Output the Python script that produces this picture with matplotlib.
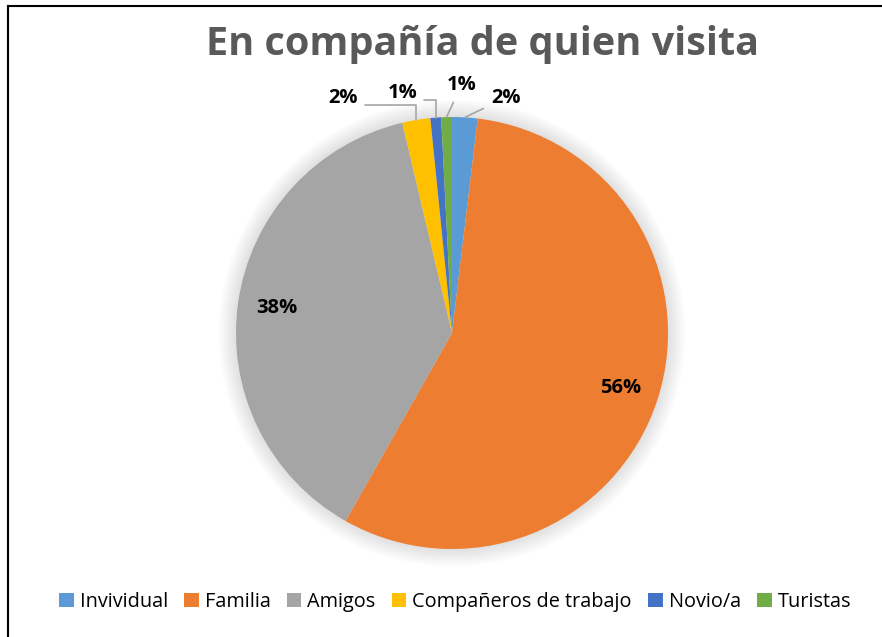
import numpy as np
import matplotlib
matplotlib.use("Agg")
import matplotlib.pyplot as plt
from matplotlib.patches import Circle
from matplotlib.lines import Line2D

# data (percent)
categories = ["Invividual", "Familia", "Amigos", "Compañeros de trabajo", "Novio/a", "Turistas"]
values = [1.9, 56.3, 38.1, 2.1, 0.8, 0.8]
colors = ["#5B9BD5", "#ED7D31", "#A5A5A5", "#FFC000", "#4472C4", "#70AD47"]
title = "En compañía de quien visita"

# outside label positions for the thin slices (axes data units, radius = 1)
outside_pos = {0: (0.25, 1.09), 3: (-0.505, 1.09), 4: (-0.23, 1.11), 5: (0.045, 1.15)}
# leader line shape: elbow (horizontal then down) for the left-hand labels
elbow = {3, 4}

W, H = 882, 637
fig = plt.figure(figsize=(W / 100, H / 100), dpi=100)
fig.patch.set_facecolor("white")

cx, cy, r = 452, 333, 216
ax = fig.add_axes([(cx - r) / W, (H - cy - r) / H, 2 * r / W, 2 * r / H])
ax.axis("off")

# soft glow behind the pie
for i in range(10):
    ax.add_patch(Circle((0, 0), 1.0 + 0.008 * (i + 1), color="black",
                        alpha=0.012, lw=0, zorder=0, clip_on=False))

wedges, _ = ax.pie(values, colors=colors, startangle=90, counterclock=False,
                   radius=1.0, wedgeprops=dict(linewidth=0), frame=False)
ax.set_xlim(-1, 1)
ax.set_ylim(-1, 1)
ax.set_aspect("auto")

total = sum(values)
font = "Open Sans"
for i, (w, v) in enumerate(zip(wedges, values)):
    pct = f"{round(v / total * 100):.0f}%"
    ang = np.deg2rad((w.theta1 + w.theta2) / 2)
    if i in outside_pos:
        tx, ty = outside_pos[i]
        ex, ey = np.cos(ang), np.sin(ang)
        if i in elbow:
            arrow = dict(arrowstyle="-", color="#A6A6A6", lw=1.2, shrinkA=3, shrinkB=0,
                         relpos=(1.0, 0.15),
                         connectionstyle="angle,angleA=0,angleB=90,rad=0")
        else:
            arrow = dict(arrowstyle="-", color="#A6A6A6", lw=1.2, shrinkA=4, shrinkB=0)
        ax.annotate(pct, xy=(ex, ey), xytext=(tx, ty), ha="center", va="center",
                    fontsize=14.5, fontweight="bold", family=font, color="black",
                    annotation_clip=False, arrowprops=arrow)
    else:
        d = 0.82
        ax.text(d * np.cos(ang), d * np.sin(ang), pct, ha="center", va="center",
                fontsize=14.5, fontweight="bold", family=font, color="black")

fig.text(482 / W, 1 - 45 / H, title, ha="center", va="center", fontsize=28.5,
         fontweight="bold", family=font, color="#595959")

fig.legend(wedges, categories, loc="center", bbox_to_anchor=(455 / W, 1 - 602 / H),
           ncol=6, frameon=False, handlelength=0.75, handleheight=0.75,
           handletextpad=0.3, columnspacing=0.8,
           prop=dict(family=font, size=14.3))

# chart border (left and top edges visible in the crop)
fig.add_artist(Line2D([8 / W, 8 / W], [0, 1 - 6 / H], transform=fig.transFigure,
                      color="black", lw=1.5))
fig.add_artist(Line2D([8 / W, 1], [1 - 6 / H, 1 - 6 / H], transform=fig.transFigure,
                      color="black", lw=1.5))

fig.savefig("out.png", dpi=100)
